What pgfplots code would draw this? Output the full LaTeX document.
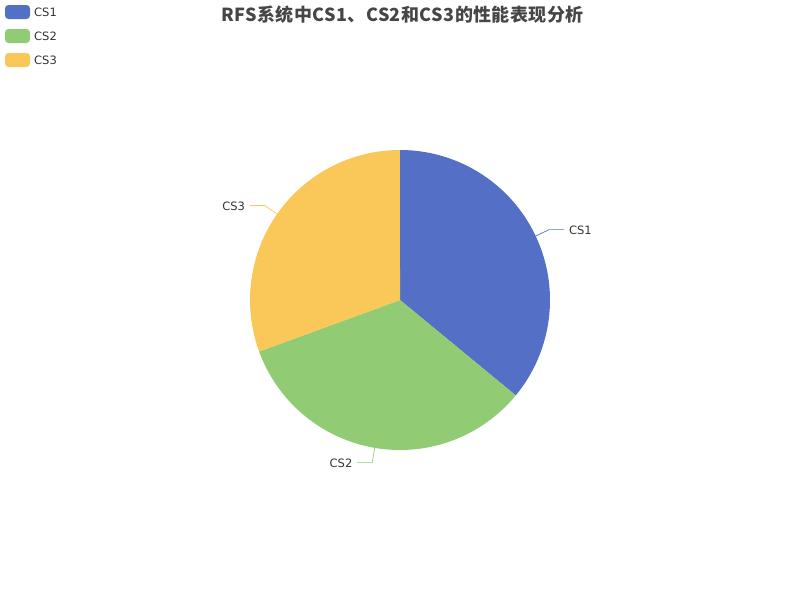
\documentclass[border=0pt]{standalone}
\usepackage{pgfplots}
\pgfplotsset{compat=1.18}
\usepackage{fontspec}
\setmainfont{DejaVu Sans}
\newfontfamily\cjk{Noto Sans CJK SC}[LetterSpace=2.5]

\definecolor{cA}{HTML}{5470C6}
\definecolor{cB}{HTML}{91CC75}
\definecolor{cC}{HTML}{FAC858}
\definecolor{txt}{HTML}{333333}
\definecolor{ttl}{HTML}{464646}

% values of the three series
\def\vA{100}
\def\vB{93}
\def\vC{85}

\begin{document}
\begin{tikzpicture}
\pgfmathsetmacro{\tot}{\vA+\vB+\vC}
\pgfmathsetmacro{\aA}{90}
\pgfmathsetmacro{\aB}{\aA-360*(\vA/\tot)}
\pgfmathsetmacro{\aC}{\aB-360*(\vB/\tot)}
\pgfmathsetmacro{\aD}{\aC-360*(\vC/\tot)}
\pgfmathsetmacro{\mA}{(\aA+\aB)/2}
\pgfmathsetmacro{\mB}{(\aB+\aC)/2}
\pgfmathsetmacro{\mC}{(\aC+\aD)/2}
\begin{axis}[
  width=800pt, height=600pt, scale only axis,
  xmin=0, xmax=800, ymin=0, ymax=600, y dir=reverse,
  hide axis, clip=false,
]
\path (rel axis cs:0,0) rectangle (rel axis cs:1,1);
% slices
\addplot[fill=cA, draw=none, domain=\aB:\aA, samples=120, variable=\t]
  ({400+150*cos(\t)},{300-150*sin(\t)}) -- (axis cs:400,300) -- cycle;
\addplot[fill=cB, draw=none, domain=\aC:\aB, samples=120, variable=\t]
  ({400+150*cos(\t)},{300-150*sin(\t)}) -- (axis cs:400,300) -- cycle;
\addplot[fill=cC, draw=none, domain=\aD:\aC, samples=120, variable=\t]
  ({400+150*cos(\t)},{300-150*sin(\t)}) -- (axis cs:400,300) -- cycle;
% leader lines and labels
\draw[cA, line width=0.7pt] (axis cs:{400+150*cos(\mA)},{300-150*sin(\mA)})
  -- (axis cs:{400+165*cos(\mA)},{300-165*sin(\mA)})
  -- ++(15pt,0) node[right, inner sep=0pt, xshift=4.5pt, yshift=-1pt, text=txt, font=\fontsize{11.5}{13}\selectfont] {CS1};
\draw[cB, line width=0.7pt] (axis cs:{400+150*cos(\mB)},{300-150*sin(\mB)})
  -- (axis cs:{400+165*cos(\mB)},{300-165*sin(\mB)})
  -- ++(-15pt,0) node[left, inner sep=0pt, xshift=-4.5pt, yshift=-1pt, text=txt, font=\fontsize{11.5}{13}\selectfont] {CS2};
\draw[cC, line width=0.7pt] (axis cs:{400+150*cos(\mC)},{300-150*sin(\mC)})
  -- (axis cs:{400+165*cos(\mC)},{300-165*sin(\mC)})
  -- ++(-15pt,0) node[left, inner sep=0pt, xshift=-4.5pt, yshift=-1pt, text=txt, font=\fontsize{11.5}{13}\selectfont] {CS3};
% legend
\fill[cA, rounded corners=3.5pt] (axis cs:5,5) rectangle (axis cs:30,19);
\fill[cB, rounded corners=3.5pt] (axis cs:5,29) rectangle (axis cs:30,43);
\fill[cC, rounded corners=3.5pt] (axis cs:5,53) rectangle (axis cs:30,67);
\node[anchor=west, inner sep=0pt, text=txt, font=\fontsize{11.5}{13}\selectfont] at (axis cs:34,12.8) {CS1};
\node[anchor=west, inner sep=0pt, text=txt, font=\fontsize{11.5}{13}\selectfont] at (axis cs:34,36.8) {CS2};
\node[anchor=west, inner sep=0pt, text=txt, font=\fontsize{11.5}{13}\selectfont] at (axis cs:34,60.8) {CS3};
% title
\node[text=ttl, inner sep=0pt, font=\cjk\bfseries\fontsize{18}{20}\selectfont] at (axis cs:402.5,15) {RFS系统中CS1、CS2和CS3的性能表现分析};
\end{axis}
\end{tikzpicture}
\end{document}
